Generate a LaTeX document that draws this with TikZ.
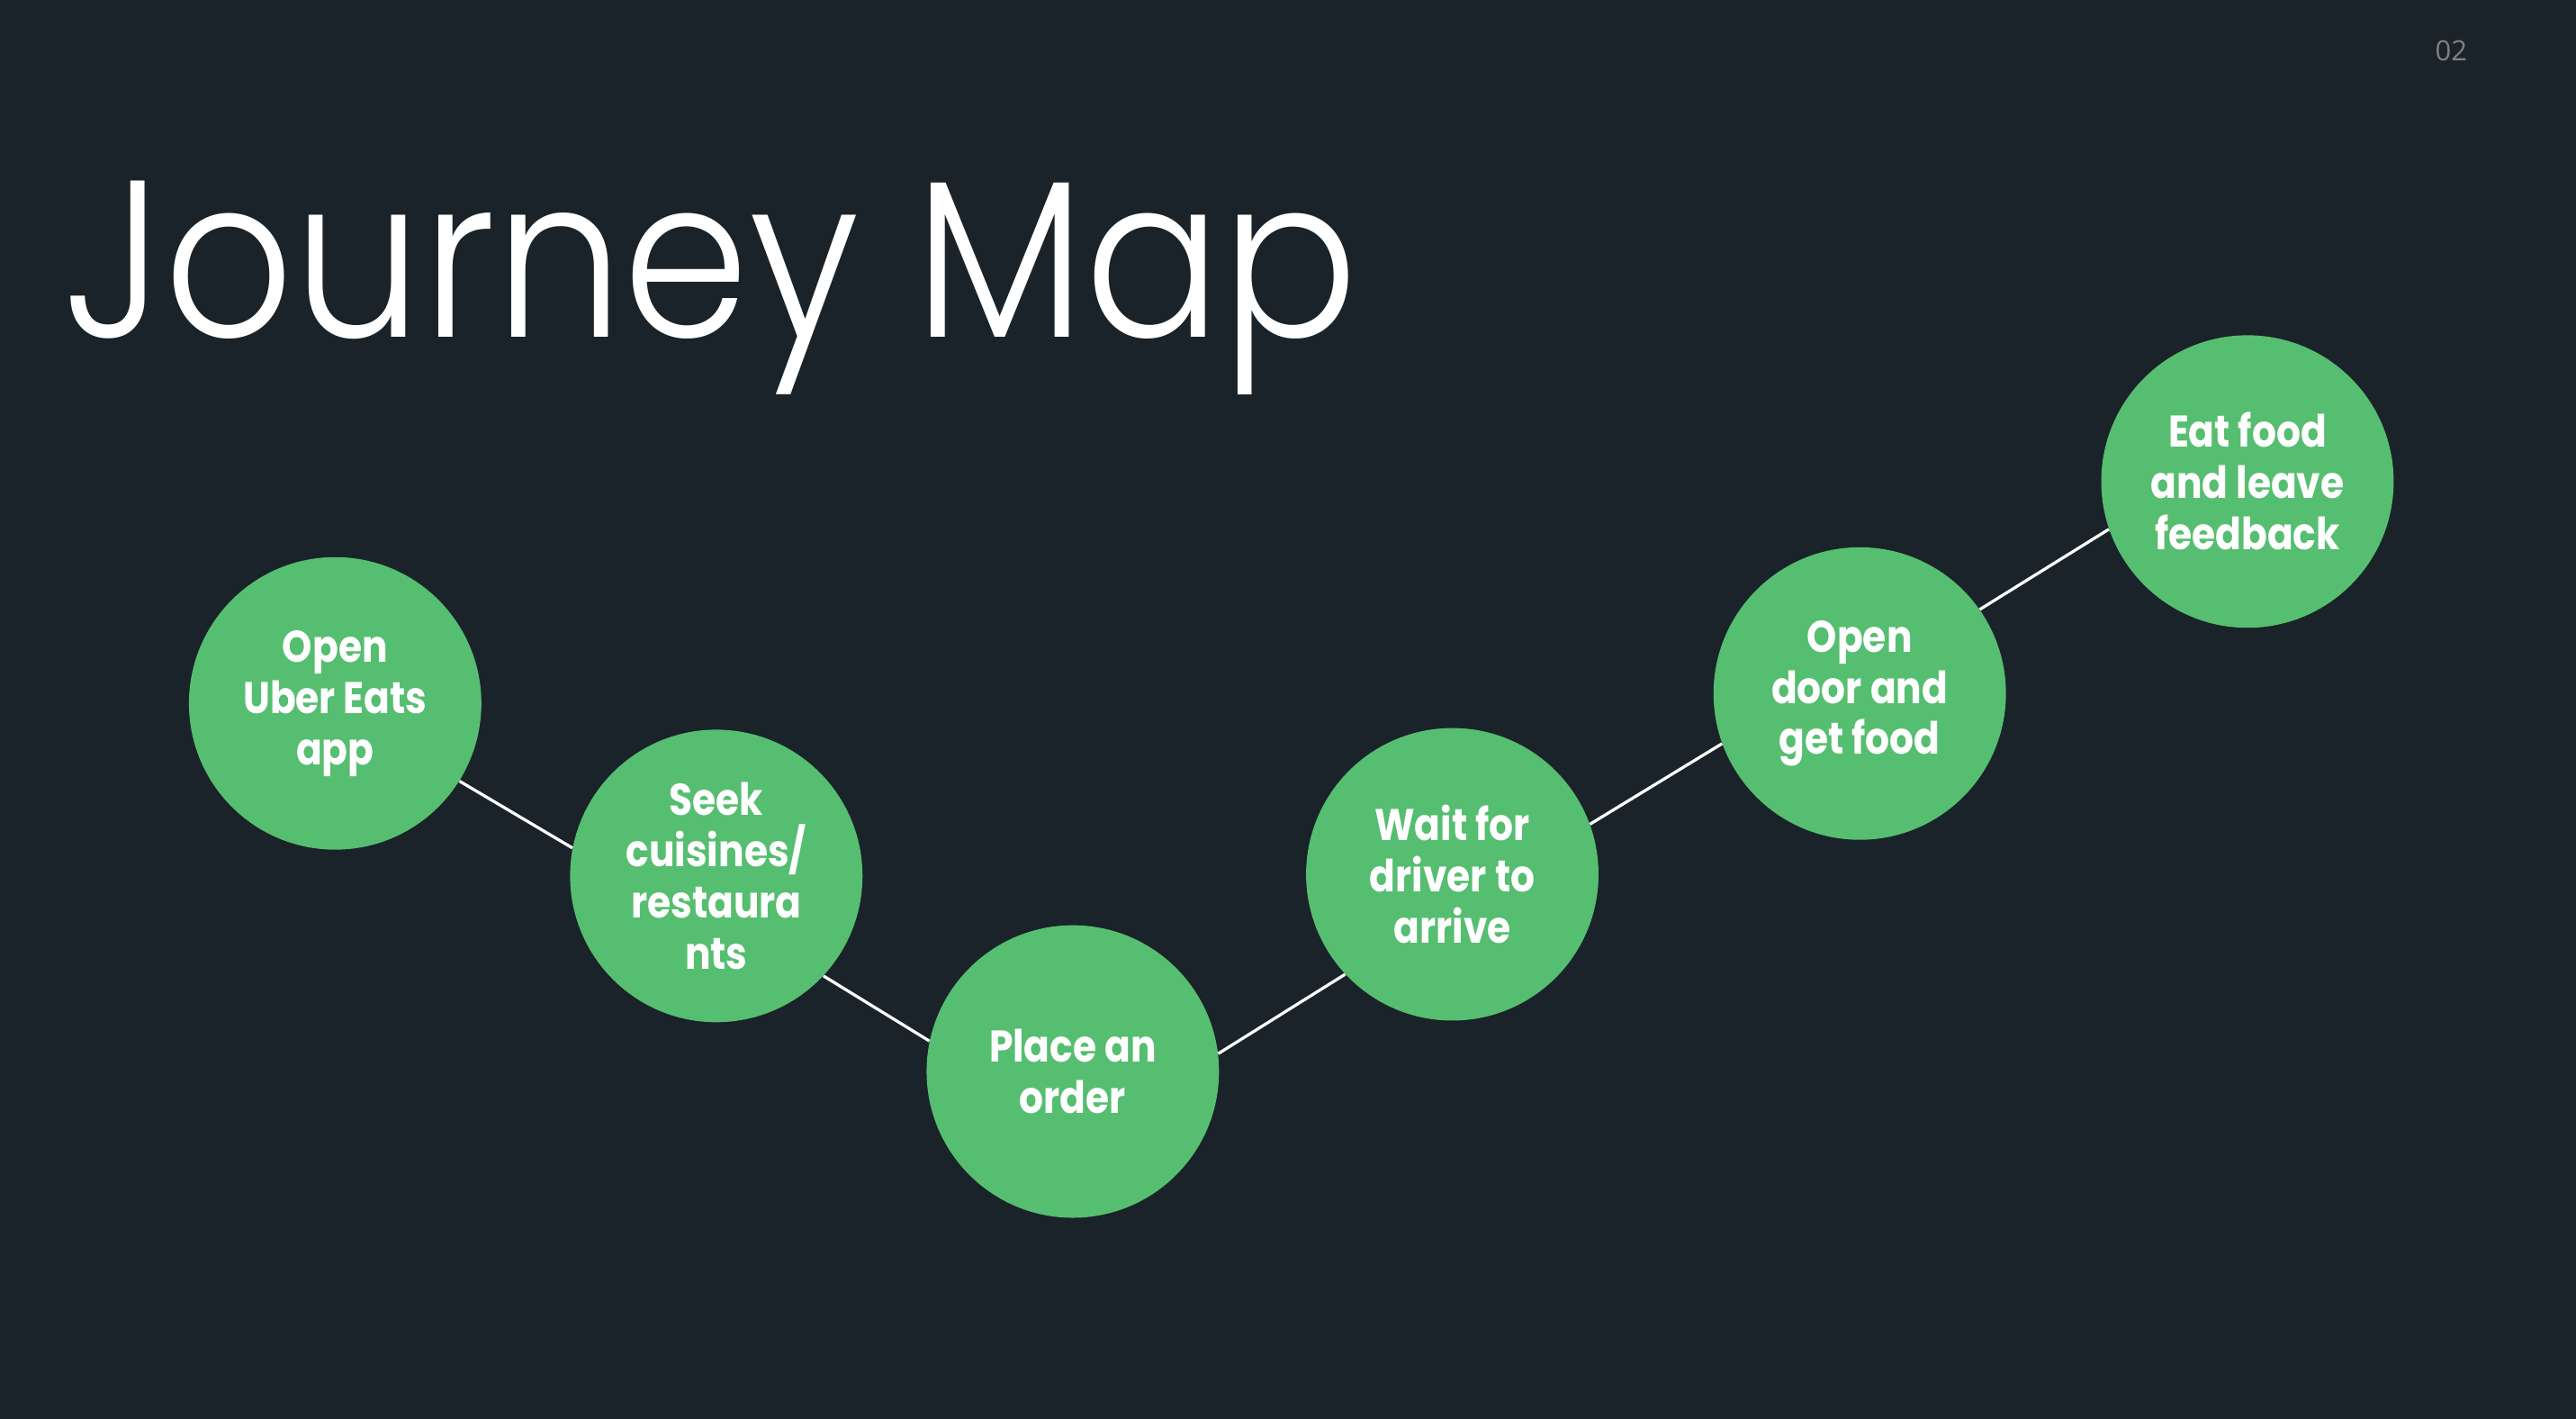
\documentclass[tikz,border=0pt]{standalone}
\usepackage{fontspec}
\setmainfont{Poppins}
\newfontfamily\titlefont{Poppins Light}[FakeStretch=0.905]
\newfontfamily\labelfont{Poppins Bold}[FakeStretch=0.86]
\newfontfamily\numfont{Open Sans}
\definecolor{bg}{HTML}{1A2329}
\definecolor{stepgreen}{HTML}{56BE70}
\definecolor{numgray}{HTML}{808080}
\begin{document}
\begin{tikzpicture}[x=1pt,y=-1pt,
  stepcircle/.style={circle,fill=stepgreen,minimum size=178pt,inner sep=0pt,
    text=white,align=center,font=\labelfont\fontsize{27}{31.2}\selectfont},
  link/.style={draw=white,line width=1.8pt}]
\fill[bg] (0,0) rectangle (1568,863.4);
\useasboundingbox (0,0) rectangle (1568,863.4);
\node[anchor=base west,inner sep=0pt,text=white,font=\titlefont\fontsize{136}{150}\selectfont] (title) at (38.5,205) {Journey Map};
\node[anchor=center,inner sep=0pt,text=numgray,font=\numfont\fontsize{17}{20}\selectfont] (pagenum) at (1492,31) {02};
\node[stepcircle] (s1) at (204,428) {Open\\Uber Eats\\app};
\node[stepcircle] (s2) at (436,533) {Seek\\cuisines/\\restaura\\nts};
\node[stepcircle] (s3) at (653,652) {Place an\\order};
\node[stepcircle] (s4) at (884,532) {Wait for\\driver to\\arrive};
\node[stepcircle] (s5) at (1132,422) {Open\\door and\\get food};
\node[stepcircle] (s6) at (1368,293) {Eat food\\and leave\\feedback};
\draw[link] (s1.-32) -- (s2.169);
\draw[link] (s2.-43.6) -- (s3.168);
\draw[link] (s3.7) -- (s4.223.6);
\draw[link] (s4.20) -- (s5.200);
\draw[link] (s5.35) -- (s6.199);
\end{tikzpicture}
\end{document}
